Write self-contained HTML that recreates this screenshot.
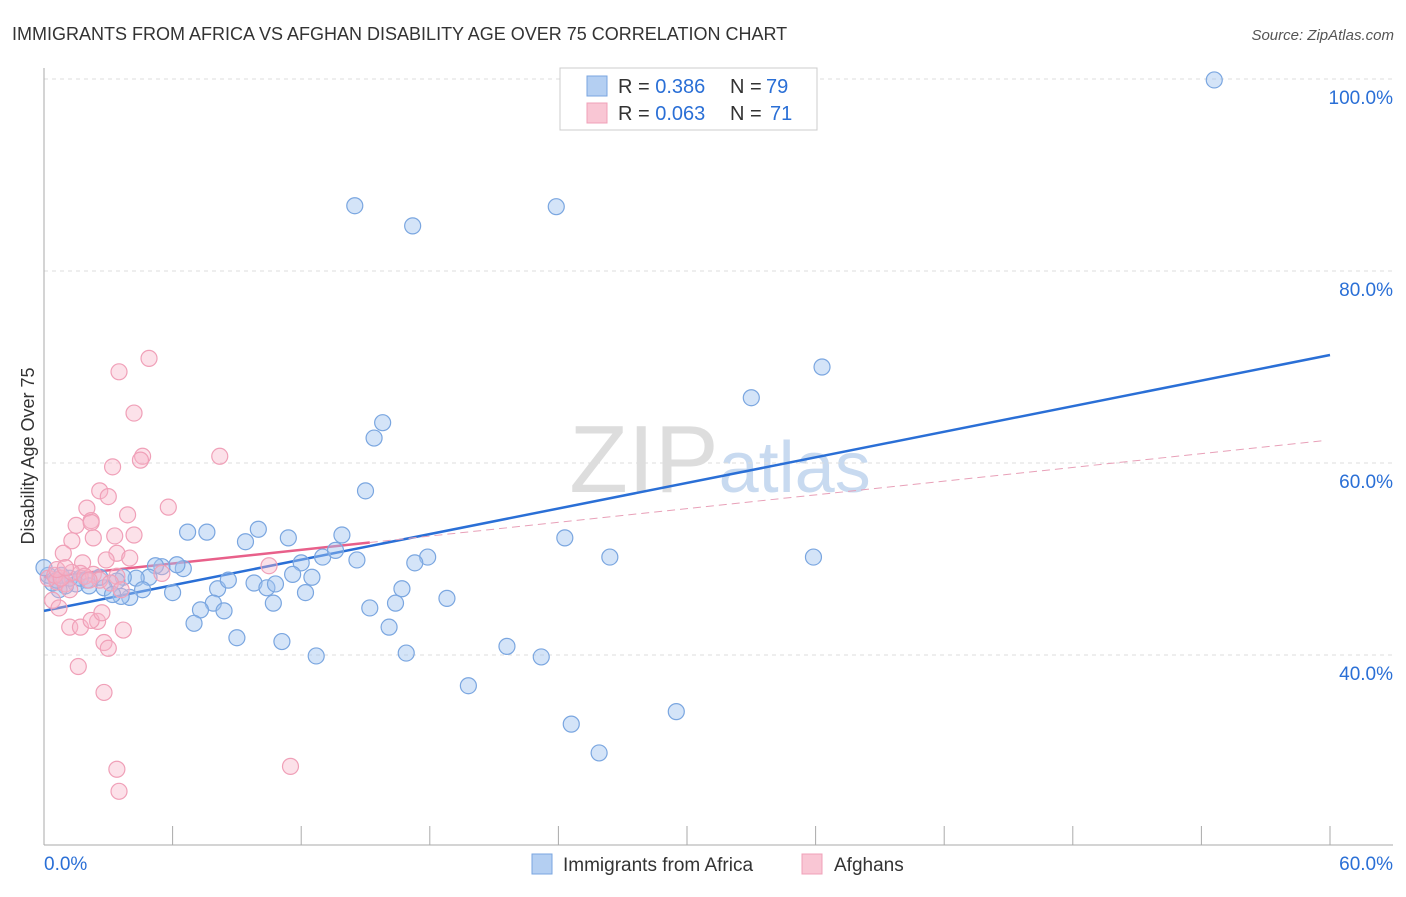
<!DOCTYPE html>
<html><head><meta charset="utf-8"><style>
body{margin:0;background:#fff;font-family:"Liberation Sans",sans-serif;}
svg text{font-family:"Liberation Sans",sans-serif;}
</style></head><body>
<svg id="chart" width="1406" height="892" xmlns="http://www.w3.org/2000/svg">
<text x="12" y="40" font-size="18" fill="#333">IMMIGRANTS FROM AFRICA VS AFGHAN DISABILITY AGE OVER 75 CORRELATION CHART</text>
<text x="1394" y="40" font-size="15" fill="#555" font-style="italic" text-anchor="end">Source: ZipAtlas.com</text>
<text x="34" y="456" font-size="18" fill="#333" text-anchor="middle" transform="rotate(-90 34 456)">Disability Age Over 75</text>
<text x="720" y="492" font-size="96" fill="#ddd" text-anchor="middle" font-family="Liberation Serif">ZIP<tspan fill="#c8daf0" font-family="Liberation Sans" font-size="72">atlas</tspan></text>
<g id="grid"></g><g id="axes"></g><g id="trends"></g><g id="pts"></g>
<g>
<rect x="560" y="68" width="257" height="62" fill="#fff" stroke="#ccc"/>
<rect x="587" y="76" width="20" height="20" fill="#b4cff2" stroke="#7aa6e0"/>
<rect x="587" y="103" width="20" height="20" fill="#f9c6d4" stroke="#f0a0b8"/>
<text x="618" y="93" font-size="20" fill="#333">R = <tspan fill="#2a6fd6">0.386</tspan></text>
<text x="730" y="93" font-size="20" fill="#333">N =</text>
<text x="766" y="93" font-size="20" fill="#2a6fd6">79</text>
<text x="618" y="120" font-size="20" fill="#333">R = <tspan fill="#2a6fd6">0.063</tspan></text>
<text x="730" y="120" font-size="20" fill="#333">N =</text>
<text x="770" y="120" font-size="20" fill="#2a6fd6">71</text>
</g>
<g>
<rect x="532" y="854" width="20" height="20" fill="#b4cff2" stroke="#7aa6e0"/>
<text x="563" y="871" font-size="19" fill="#333">Immigrants from Africa</text>
<rect x="802" y="854" width="20" height="20" fill="#f9c6d4" stroke="#f0a0b8"/>
<text x="834" y="871" font-size="19" fill="#333">Afghans</text>
</g>
</svg>
<script>
const yTicks=[40,60,80,100];
const xTickLabels=["0.0%","60.0%"];
const blueX=[54.6,14.5,17.2,23.9,36.3,33.0,15.8,15.4,15.0,24.3,26.4,35.9,10.0,6.7,7.6,9.4,11.4,13.9,12.0,13.0,13.6,14.6,17.9,17.3,6.5,6.2,5.5,5.2,4.9,4.3,3.7,3.4,2.8,2.6,2.0,1.5,1.0,0.7,0.4,0.2,4.6,4.0,3.6,6.0,8.1,8.6,9.8,10.4,10.8,11.6,12.5,12.2,10.7,7.9,7.3,7.0,8.4,9.0,11.1,12.7,15.2,16.4,16.7,16.1,16.9,18.8,19.8,21.6,23.2,24.6,25.9,29.5,0.6,0.8,1.2,1.7,2.1,3.2,0];
const blueY=[99.9,86.8,84.7,86.7,70.0,66.8,64.2,62.6,57.1,52.2,50.2,50.2,53.1,52.8,52.8,51.8,52.2,52.5,49.6,50.2,50.9,49.9,50.2,49.6,49.0,49.4,49.2,49.3,48.1,48.0,48.1,47.7,47.0,48.1,47.8,47.4,47.2,46.8,47.5,48.3,46.8,46.0,46.1,46.5,46.9,47.8,47.5,47.0,47.4,48.4,48.1,46.5,45.4,45.4,44.7,43.3,44.6,41.8,41.4,39.9,44.9,45.4,46.9,42.9,40.2,45.9,36.8,40.9,39.8,32.8,29.8,34.1,47.8,48.3,48.0,48.0,47.2,46.3,49.1];
const pinkX=[4.9,3.5,4.2,8.2,4.6,4.5,3.2,2.6,3.0,5.8,2.0,3.9,2.2,1.5,2.2,3.3,4.2,2.3,1.3,0.9,3.4,4.0,2.9,1.8,10.5,5.5,1.7,2.3,3.4,2.6,0.6,1.0,1.2,0.4,0.7,3.7,2.5,1.2,1.7,2.2,2.8,3.0,1.6,2.8,3.4,3.5,11.5,0.2,0.5,0.8,1.3,1.9,2.1,3.1,3.6,2.7,0.6,1.0];
const pinkY=[70.9,69.5,65.2,60.7,60.7,60.3,59.6,57.1,56.5,55.4,55.3,54.6,54.0,53.5,53.8,52.4,52.5,52.2,51.9,50.6,50.6,50.1,49.9,49.6,49.3,48.5,48.5,48.4,48.2,47.8,47.6,47.4,46.8,45.7,44.9,42.6,43.5,42.9,42.9,43.6,41.3,40.7,38.8,36.1,28.1,25.8,28.4,48.0,48.3,48.0,48.6,48.2,47.8,47.5,46.8,44.4,48.9,49.1];
const blueTrend=[44.6,71.25];
const pinkTrend=[48.1,62.4];
const pinkSolidEnd=15.2;
const NS="http://www.w3.org/2000/svg";
const sx=v=>44+v*(1286/60), sy=v=>1039-v*9.6;
function mk(p,tag,a){const e=document.createElementNS(NS,tag);for(const k in a)e.setAttribute(k,a[k]);document.getElementById(p).appendChild(e);return e;}
yTicks.forEach(t=>{
 const l=mk('grid','line',{x1:44,x2:1393,y1:sy(t),y2:sy(t),stroke:'#ddd','stroke-dasharray':'4,4'});
 
 
 const tx=mk('grid','text',{x:1393,y:sy(t)+25,'font-size':19,fill:'#2a6fd6','text-anchor':'end'});tx.textContent=t.toFixed(1)+'%';
 
 
});
mk('axes','line',{x1:44,x2:44,y1:68,y2:845,stroke:'#aaa'});
mk('axes','line',{x1:44,x2:1393,y1:845,y2:845,stroke:'#aaa'});
for(let i=0;i<=10;i++){const x=sx(i*6);mk('axes','line',{x1:x,x2:x,y1:826,y2:845,stroke:'#aaa'});}
const xl0=mk('axes','text',{x:44,y:870,'font-size':19,fill:'#2a6fd6'});xl0.textContent=xTickLabels[0];


const xl1=mk('axes','text',{x:1393,y:870,'font-size':19,fill:'#2a6fd6','text-anchor':'end'});xl1.textContent=xTickLabels[1];


blueX.forEach((v,i)=>{const c=mk('pts','circle',{cx:sx(v),cy:sy(blueY[i]),r:8,fill:'rgba(160,196,240,0.45)',stroke:'#7aa6e0','stroke-width':1.2});
 
 });
pinkX.forEach((v,i)=>{const c=mk('pts','circle',{cx:sx(v),cy:sy(pinkY[i]),r:8,fill:'rgba(248,180,200,0.4)',stroke:'#f0a0b8','stroke-width':1.2});
 
 });
const pv=x=>pinkTrend[0]+(pinkTrend[1]-pinkTrend[0])*x/60;
const bt=mk('trends','line',{x1:sx(0),y1:sy(blueTrend[0]),x2:sx(60),y2:sy(blueTrend[1]),stroke:'#2a6fd6','stroke-width':2.5});


const ps=mk('trends','line',{x1:sx(0),y1:sy(pv(0)),x2:sx(pinkSolidEnd),y2:sy(pv(pinkSolidEnd)),stroke:'#e8608a','stroke-width':2.5});


const pd=mk('trends','line',{x1:sx(pinkSolidEnd),y1:sy(pv(pinkSolidEnd)),x2:sx(59.8),y2:sy(pv(59.8)),stroke:'#e8a0b8','stroke-width':1,'stroke-dasharray':'8,5'});


</script>
</body></html>
